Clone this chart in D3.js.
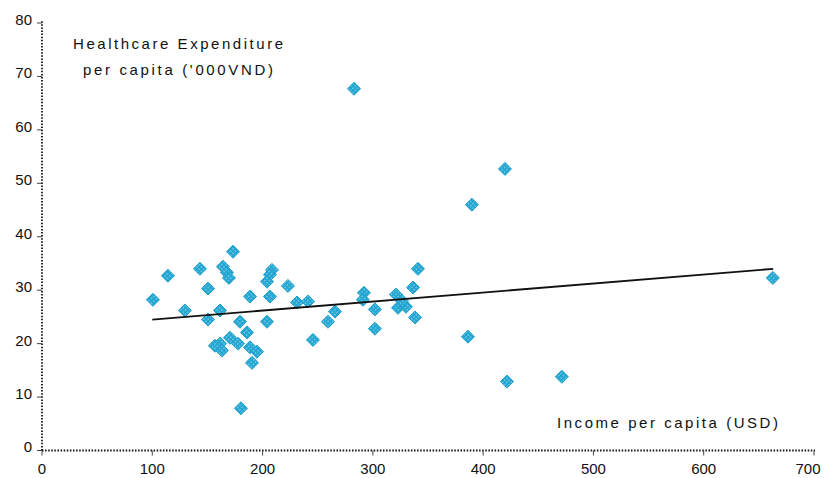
<!DOCTYPE html>
<html>
<head>
<meta charset="utf-8">
<script src="https://cdn.jsdelivr.net/npm/d3@7"></script>
<style>
    html, body { margin: 0; padding: 0; background: #fff; }
    #root { width: 826px; height: 478px; }
    text { font-family: "Liberation Sans", Arial, sans-serif; fill: #111; }
</style>
</head>
<body>
<div id="root"></div>
<script>
    // income per capita (USD)
    const income = [
        100.6, 114.2, 129.6, 143.2, 150.5, 150.5, 161.4, 164.1, 167.7, 169.5,
        173.2, 179.5, 188.6, 204.0, 206.7, 208.5, 206.7, 204.0, 223.0, 231.2,
        241.2, 245.7, 259.3, 265.6, 282.9, 291.9, 291.0, 301.9, 301.9, 320.9,
        322.8, 330.0, 326.4, 336.4, 340.9, 338.2, 389.8, 386.2, 419.8, 421.6,
        471.4, 662.7, 161.4, 163.2, 170.4, 177.7, 185.9, 188.6, 194.9, 190.4,
        180.4, 156.8
    ];
    // healthcare expenditure per capita ('000VND)
    const expenditure = [
        28.2, 32.7, 26.2, 34.0, 30.3, 24.5, 26.2, 34.4, 33.3, 32.3,
        37.2, 24.1, 28.8, 24.1, 28.8, 33.8, 32.9, 31.6, 30.8, 27.7,
        27.9, 20.7, 24.1, 26.0, 67.7, 29.5, 28.2, 26.4, 22.8, 29.2,
        26.7, 26.9, 28.0, 30.5, 34.0, 24.9, 46.0, 21.3, 52.7, 12.9,
        13.8, 32.3, 20.0, 18.7, 21.1, 20.0, 22.1, 19.3, 18.5, 16.4,
        7.9, 19.6
    ];
    // linear trend line end points
    const trendX = [100, 663];
    const trendY = [24.5, 34.0];

    const xTicks = [0, 100, 200, 300, 400, 500, 600, 700];
    const yTicks = [0, 10, 20, 30, 40, 50, 60, 70, 80];

    const width = 826, height = 478;
    const x = d3.scaleLinear().domain([0, 700]).range([42, 814]);
    const y = d3.scaleLinear().domain([0, 80]).range([450.5, 23]);

    const svg = d3.select("#root").append("svg")
        .attr("width", width)
        .attr("height", height);

    // marker fill: cyan with little white dots
    const defs = svg.append("defs");
    const pat = defs.append("pattern")
        .attr("id", "dots")
        .attr("patternUnits", "userSpaceOnUse")
        .attr("width", 3.2)
        .attr("height", 3.2)
        .attr("patternTransform", "rotate(45)");
    pat.append("rect").attr("width", 3.2).attr("height", 3.2).attr("fill", "#22a6d2");
    pat.append("rect").attr("x", 1.1).attr("y", 1.1).attr("width", 1).attr("height", 1).attr("fill", "#dff3fa");

    // axes (dotted)
    const axisStyle = g => g
        .attr("stroke", "#111")
        .attr("stroke-width", 1.8)
        .attr("stroke-dasharray", "1.5 1.6");

    svg.append("line")
        .attr("x1", x(0)).attr("x2", x(0))
        .attr("y1", y(0)).attr("y2", 20)
        .call(axisStyle);
    svg.append("line")
        .attr("x1", x(0)).attr("x2", 815)
        .attr("y1", y(0)).attr("y2", y(0))
        .call(axisStyle);

    // y ticks
    svg.selectAll(".ytick").data(yTicks).join("line")
        .attr("x1", x(0) - 5).attr("x2", x(0))
        .attr("y1", d => y(d)).attr("y2", d => y(d))
        .attr("stroke", "#444").attr("stroke-width", 1);
    svg.selectAll(".ylab").data(yTicks).join("text")
        .attr("x", 32)
        .attr("y", d => y(d) - 2)
        .attr("text-anchor", "end")
        .attr("dominant-baseline", "middle")
        .attr("font-size", 15)
        .text(d => d);

    // x ticks
    svg.selectAll(".xtick").data(xTicks).join("line")
        .attr("x1", d => x(d)).attr("x2", d => x(d))
        .attr("y1", y(0)).attr("y2", y(0) + 5)
        .attr("stroke", "#444").attr("stroke-width", 1);
    svg.selectAll(".xlab").data(xTicks).join("text")
        .attr("x", d => Math.min(x(d), 808))
        .attr("y", 474)
        .attr("text-anchor", "middle")
        .attr("font-size", 15)
        .text(d => d);

    // axis titles
    svg.append("text")
        .attr("x", 178).attr("y", 49)
        .attr("text-anchor", "middle")
        .attr("font-size", 15)
        .attr("textLength", 210).attr("lengthAdjust", "spacing")
        .text("Healthcare Expenditure");
    svg.append("text")
        .attr("x", 178).attr("y", 75)
        .attr("text-anchor", "middle")
        .attr("font-size", 15)
        .attr("textLength", 190).attr("lengthAdjust", "spacing")
        .text("per capita ('000VND)");
    svg.append("text")
        .attr("x", 557).attr("y", 428)
        .attr("font-size", 15)
        .attr("textLength", 221).attr("lengthAdjust", "spacing")
        .text("Income per capita (USD)");

    // markers
    const pts = income.map((v, i) => [v, expenditure[i]]);
    const r = 6.5;
    svg.append("g").selectAll("path").data(pts).join("path")
        .attr("d", d => {
            const cx = x(d[0]), cy = y(d[1]);
            return `M ${cx} ${cy - r} L ${cx + r} ${cy} L ${cx} ${cy + r} L ${cx - r} ${cy} Z`;
        })
        .attr("fill", "url(#dots)")
        .attr("stroke", "#1a9dcc")
        .attr("stroke-width", 1);

    // trend line
    const line = d3.line().x(d => x(d[0])).y(d => y(d[1]));
    svg.append("path")
        .attr("d", line(trendX.map((v, i) => [v, trendY[i]])))
        .attr("fill", "none")
        .attr("stroke", "#111")
        .attr("stroke-width", 1.8);
</script>
</body>
</html>
